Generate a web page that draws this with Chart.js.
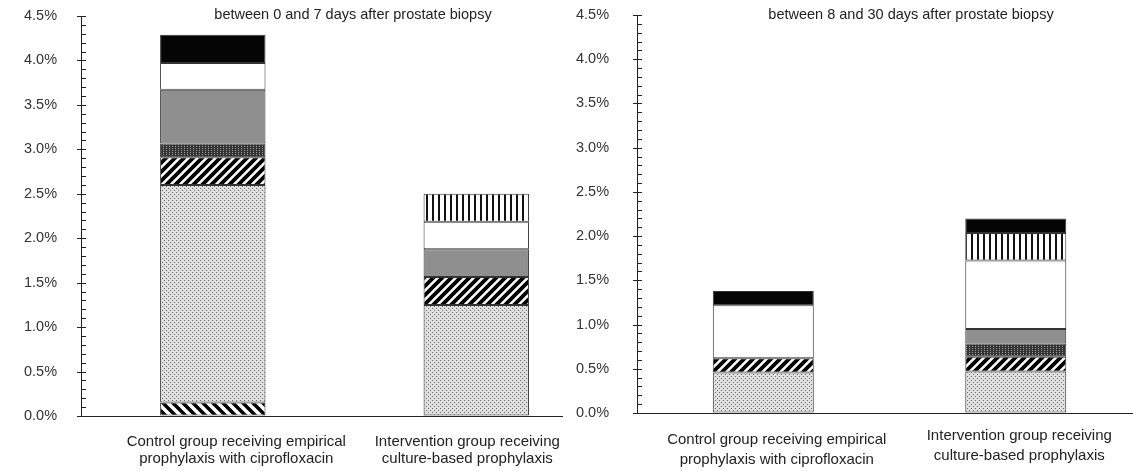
<!DOCTYPE html>
<html>
<head>
<meta charset="utf-8">
<script src="https://cdn.jsdelivr.net/npm/chart.js@4.4.1/dist/chart.umd.min.js"></script>
<style>
  html, body { margin: 0; padding: 0; background: #fff; overflow: hidden; }
  #wrap { position: relative; width: 1133px; height: 471px; overflow: hidden; }
  #early { position: absolute; left: 0; top: 0; }
  #late { position: absolute; left: 563px; top: 0; background: #fff; }
</style>
</head>
<body>
<div id="wrap">
  <canvas id="early" width="620" height="471"></canvas>
  <canvas id="late" width="595" height="471"></canvas>
</div>
<script>
const categories = [
  ['Control group receiving empirical', 'prophylaxis with ciprofloxacin'],
  ['Intervention group receiving', 'culture-based prophylaxis'],
];

// stack order, bottom to top (no legend in the original)
const seriesNames = ['Group A', 'Group B', 'Group C', 'Group D', 'Group E', 'Group F', 'Group G', 'Group H'];

// % of patients per segment, same order as seriesNames; null = segment absent
const earlyControl      = [0.153, 2.447, 0.31, 0.155, 0.605, 0.30, null, 0.32];
const earlyIntervention = [null, 1.25, 0.315, null, 0.31, 0.31, 0.315, null];
const lateControl       = [null, 0.458, 0.162, null, null, 0.598, null, 0.162];
const lateIntervention  = [null, 0.47, 0.167, 0.15, 0.163, 0.775, 0.311, 0.164];

const yMax = 4.5;
const yStep = 0.1;
const yLabelStep = 0.5;

const FONT = '"Liberation Sans", Arial, sans-serif';
Chart.defaults.font.family = FONT;
Chart.defaults.font.size = 14.5;
Chart.defaults.color = '#333';

function isMajor(v) {
  const k = v / yLabelStep;
  return Math.abs(k - Math.round(k)) < 1e-6;
}

function tile(ctx, w, h, draw) {
  const c = document.createElement('canvas');
  c.width = w;
  c.height = h;
  draw(c.getContext('2d'), w, h);
  return ctx.createPattern(c, 'repeat');
}

function makeFills(ctx) {
  const backDiag = tile(ctx, 10, 10, (t, s) => {
    t.fillStyle = '#fff'; t.fillRect(0, 0, s, s);
    t.strokeStyle = '#000'; t.lineWidth = 3.5;
    t.beginPath();
    t.moveTo(0, 0); t.lineTo(s, s);
    t.moveTo(-2, s - 2); t.lineTo(2, s + 2);
    t.moveTo(s - 2, -2); t.lineTo(s + 2, 2);
    t.stroke();
  });
  const lightDots = tile(ctx, 4, 4, (t) => {
    t.fillStyle = '#e0e0e0'; t.fillRect(0, 0, 4, 4);
    t.fillStyle = '#666';
    t.fillRect(0, 0, 1, 1); t.fillRect(2, 2, 1, 1);
  });
  const fwdDiag = tile(ctx, 9, 9, (t, s) => {
    t.fillStyle = '#fff'; t.fillRect(0, 0, s, s);
    t.strokeStyle = '#000'; t.lineWidth = 3.8;
    t.beginPath();
    t.moveTo(0, s); t.lineTo(s, 0);
    t.moveTo(-2, 2); t.lineTo(2, -2);
    t.moveTo(s - 2, s + 2); t.lineTo(s + 2, s - 2);
    t.stroke();
  });
  const darkDots = tile(ctx, 3, 2, (t) => {
    t.fillStyle = '#333'; t.fillRect(0, 0, 3, 2);
    t.fillStyle = '#a0a0a0'; t.fillRect(1, 0, 1, 1);
  });
  const vertical = tile(ctx, 6, 1, (t) => {
    t.fillStyle = '#fff'; t.fillRect(0, 0, 6, 1);
    t.fillStyle = '#111'; t.fillRect(0, 0, 2, 1);
  });
  return [backDiag, lightDots, fwdDiag, darkDots, '#8f8f8f', '#ffffff', vertical, '#050505'];
}

const panelTitle = {
  id: 'panelTitle',
  afterDraw(chart, args, opts) {
    const c = chart.ctx;
    c.save();
    c.font = '14.5px ' + FONT;
    c.fillStyle = '#222';
    c.textAlign = 'center';
    c.textBaseline = 'middle';
    c.fillText(opts.text, opts.x, opts.y);
    c.restore();
  },
};

// y ticks: majors cross the axis, minors point into the plot
const axisTicks = {
  id: 'axisTicks',
  afterDraw(chart) {
    const y = chart.scales.y;
    const c = chart.ctx;
    const x0 = chart.chartArea.left;
    c.save();
    c.strokeStyle = '#222';
    c.lineWidth = 1;
    y.ticks.forEach((t) => {
      const py = Math.round(y.getPixelForValue(t.value)) + 0.5;
      c.beginPath();
      c.moveTo(isMajor(t.value) ? x0 - 4 : x0, py);
      c.lineTo(x0 + 5, py);
      c.stroke();
    });
    c.restore();
  },
};

// category labels sit a little off the bar centres in the original
const catLabels = {
  id: 'catLabels',
  afterDraw(chart, args, opts) {
    const x = chart.scales.x;
    const c = chart.ctx;
    c.save();
    c.font = '15px ' + FONT;
    c.fillStyle = '#222';
    c.textAlign = 'center';
    c.textBaseline = 'middle';
    chart.data.labels.forEach((lines, i) => {
      const cx = x.getPixelForTick(i) + opts.dx[i];
      const top = x.top + opts.dy[i];
      lines.forEach((ln, j) => c.fillText(ln, cx, top + j * opts.lineGap));
    });
    c.restore();
  },
};

function buildChart(id, control, intervention, cfg) {
  const canvas = document.getElementById(id);
  const ctx = canvas.getContext('2d');
  const fills = makeFills(ctx);
  const datasets = seriesNames.map((name, i) => ({
    label: name,
    data: [control[i], intervention[i]],
    backgroundColor: fills[i],
    borderColor: '#333',
    borderWidth: 1,
    borderSkipped: false,
    barPercentage: 0.4,
    categoryPercentage: 1,
  }));

  return new Chart(ctx, {
    type: 'bar',
    data: { labels: categories, datasets },
    plugins: [panelTitle, axisTicks, catLabels],
    options: {
      responsive: false,
      animation: false,
      layout: { padding: cfg.padding },
      plugins: {
        legend: { display: false },
        tooltip: { enabled: false },
        panelTitle: cfg.title,
        catLabels: cfg.labels,
      },
      scales: {
        x: {
          stacked: true,
          grid: { drawOnChartArea: false, tickLength: 50, tickColor: 'rgba(0,0,0,0)' },
          border: { color: '#222', width: 1 },
          ticks: { display: false },
        },
        y: {
          stacked: true,
          min: 0,
          max: yMax,
          grid: { drawOnChartArea: false, tickLength: cfg.yGap, tickColor: 'rgba(0,0,0,0)' },
          border: { color: '#222', width: 1 },
          ticks: {
            stepSize: yStep,
            autoSkip: false,
            padding: 0,
            color: '#333',
            callback: (v) => (isMajor(v) ? v.toFixed(1) + '%' : ''),
          },
        },
      },
    },
  });
}

buildChart('early', earlyControl, earlyIntervention, {
  title: { text: 'between 0 and 7 days after prostate biopsy', x: 353, y: 15 },
  labels: { dx: [23.5, -9], dy: [25.7, 25.7], lineGap: 17.6 },
  padding: { left: 24, right: 12, top: 16, bottom: 5 },
  yGap: 24,
});

buildChart('late', lateControl, lateIntervention, {
  title: { text: 'between 8 and 30 days after prostate biopsy', x: 348, y: 15 },
  labels: { dx: [13.5, 3.5], dy: [27, 23], lineGap: 20 },
  padding: { left: 13, right: 16, top: 15, bottom: 8 },
  yGap: 28,
});
</script>
</body>
</html>
